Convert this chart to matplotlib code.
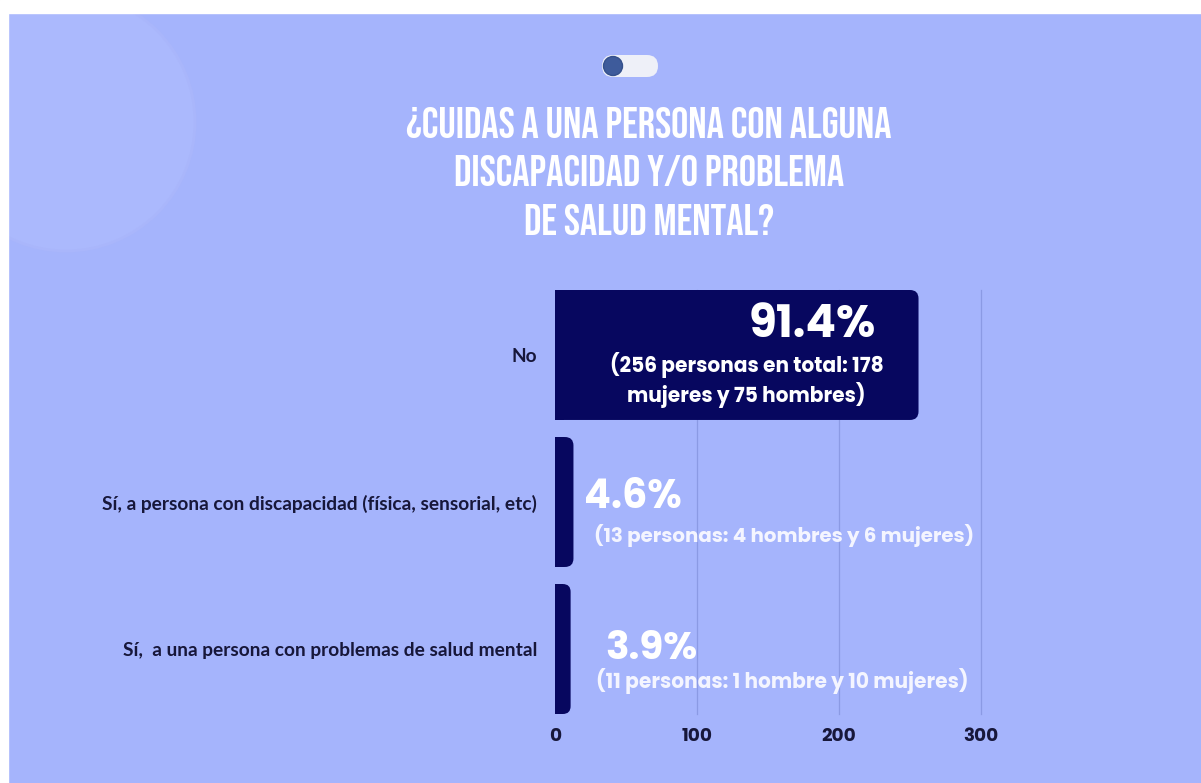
import matplotlib.pyplot as plt
from matplotlib.patches import FancyBboxPatch, Rectangle, Circle

# encuesta: cuidado de personas con discapacidad / salud mental
categorias = ['No',
              'Sí, a persona con discapacidad (física, sensorial, etc)',
              'Sí,  a una persona con problemas de salud mental']
personas = [256, 13, 11]
hombres = [75, 4, 1]
mujeres = [178, 6, 10]
ticks = [0, 100, 200, 300]

total = sum(personas)
porcentajes = ['{:.1f}%'.format(p / total * 100) for p in personas]
detalles = [
    '({} personas en total: {}\nmujeres y {} hombres)'.format(personas[0], mujeres[0], hombres[0]),
    '({} personas: {} hombres y {} mujeres)'.format(personas[1], hombres[1], mujeres[1]),
    '({} personas: {} hombre y {} mujeres)'.format(personas[2], hombres[2], mujeres[2]),
]

fondo = '#a5b4fc'
azul = '#07075f'
texto = '#17173a'
f_titulo = ['Bebas Neue', 'Oswald', 'DejaVu Sans']
f_num = ['Poppins', 'DejaVu Sans']
f_cat = ['Lato', 'DejaVu Sans']

W, H = 1201, 783
fig = plt.figure(figsize=(W / 100, H / 100), dpi=100, facecolor=fondo)

# capa de fondo en pixeles
bg = fig.add_axes([0, 0, 1, 1], zorder=0)
bg.set_xlim(0, W)
bg.set_ylim(H, 0)
bg.axis('off')
bg.add_patch(Rectangle((0, 0), W, H, color=fondo))
bg.add_patch(Circle((66, 122), 129, color='#abb9fd', ec='#a9b6fb', lw=2))
bg.add_patch(Rectangle((0, 0), W, 13, color='white'))
bg.add_patch(Rectangle((0, 0), 8, H, color='white'))

# interruptor decorativo
bg.add_patch(FancyBboxPatch((602, 55), 56, 22, boxstyle='round,pad=0,rounding_size=11',
                            fc='#eef0f8', ec='none'))
bg.add_patch(Circle((613, 66), 9.5, fc='#3e5b9b', ec='#34508c', lw=1))

bg.text(649, 171, '¿CUIDAS A UNA PERSONA CON ALGUNA\nDISCAPACIDAD Y/O PROBLEMA\nDE SALUD MENTAL?',
        ha='center', va='center', color='white', fontsize=31, fontweight='bold',
        family=f_titulo, linespacing=1.58)

# grafico de barras
ax = fig.add_axes([555 / W, (H - 714) / H, 426 / W, 424 / H], zorder=1)
ax.patch.set_alpha(0)
alto = 0.884
ax.set_xlim(0, 300)
ax.set_ylim(len(personas) - 1 + alto / 2, -alto / 2)

r = 6.0
asp = 1.42 / 147
for i, v in enumerate(personas):
    ax.add_patch(FancyBboxPatch((0, i - alto / 2), v, alto,
                                boxstyle='round,pad=0,rounding_size={}'.format(min(r, v / 2)),
                                mutation_aspect=asp, fc=azul, ec='none', zorder=3))
    ax.add_patch(Rectangle((0, i - alto / 2), min(r, v / 2), alto, fc=azul, ec='none', zorder=3))

for t in ticks[1:]:
    ax.axvline(t, color='#8b9ae4', lw=0.9, zorder=1, clip_on=False)

ax.set_xticks(ticks)
ax.set_xticklabels([str(t) for t in ticks], fontsize=13.2, fontweight='bold',
                   color=texto, family=f_num)
ax.set_yticks(range(len(categorias)))
ax.set_yticklabels(categorias, fontsize=13.8, fontweight='bold',
                   color=texto, family=f_cat)
ax.tick_params(axis='x', length=0, pad=10)
ax.tick_params(axis='y', length=0, pad=13)
for s in ax.spines.values():
    s.set_visible(False)

# etiquetas de valores
ax.text(226, -0.195, porcentajes[0], ha='right', va='center', color='white',
        fontsize=32.5, fontweight='bold', family=f_num, zorder=4)
ax.text(135, 0.17, detalles[0], ha='center', va='center', color='white',
        fontsize=14.5, fontweight='bold', family=f_num, linespacing=1.2, zorder=4)

ax.text(20.4, 1 - 0.025, porcentajes[1], ha='left', va='center', color='white',
        fontsize=28.5, fontweight='bold', family=f_num, zorder=4)
ax.text(27.5, 1 + 0.225, detalles[1], ha='left', va='center', color='#f4f5ff',
        fontsize=14.3, fontweight='bold', family=f_num, zorder=4)

ax.text(35.2, 2 + 0.003, porcentajes[2], ha='left', va='center', color='white',
        fontsize=28, fontweight='bold', family=f_num, zorder=4)
ax.text(28.9, 2 + 0.218, detalles[2], ha='left', va='center', color='#f4f5ff',
        fontsize=14.5, fontweight='bold', family=f_num, zorder=4)

fig.savefig('out.png', dpi=100, facecolor=fondo)
